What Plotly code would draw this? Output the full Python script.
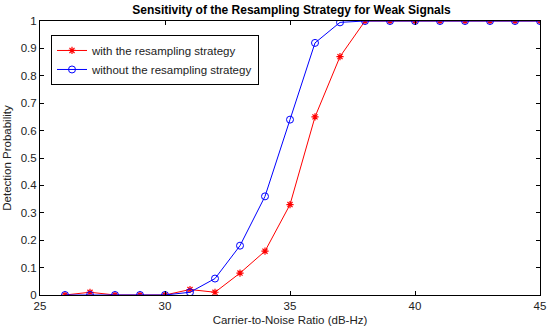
import plotly.graph_objects as go

cnr = [26, 27, 28, 29, 30, 31, 32, 33, 34, 35, 36, 37, 38, 39, 40, 41, 42, 43, 44, 45]
with_resampling = [0, 0.01, 0, 0, 0, 0.02, 0.01, 0.08, 0.16, 0.33, 0.65, 0.87, 1, 1, 1, 1, 1, 1, 1, 1]
without_resampling = [0, 0, 0, 0, 0, 0.01, 0.06, 0.18, 0.36, 0.64, 0.92, 0.995, 1, 1, 1, 1, 1, 1, 1, 1]

x_ticks = [25, 30, 35, 40, 45]
y_ticks = [0, 0.1, 0.2, 0.3, 0.4, 0.5, 0.6, 0.7, 0.8, 0.9, 1]
y_ticklabels = ["0", "0.1", "0.2", "0.3", "0.4", "0.5", "0.6", "0.7", "0.8", "0.9", "1"]

FONT = "Liberation Sans, Arial"
TXT = "#222222"

fig = go.Figure()
fig.add_trace(go.Scatter(
    x=cnr, y=with_resampling, mode="lines+markers",
    name="with the resampling strategy",
    line=dict(color="#ff0000", width=1),
    marker=dict(symbol="asterisk-open", size=6, color="#ff0000", line=dict(color="#ff0000", width=1.2)),
))
fig.add_trace(go.Scatter(
    x=cnr, y=without_resampling, mode="lines+markers",
    name="without the resampling strategy",
    line=dict(color="#0000ff", width=1),
    marker=dict(symbol="circle-open", size=7, color="#0000ff", line=dict(color="#0000ff", width=1)),
))

axis_common = dict(
    showgrid=False, zeroline=False, showline=True, linecolor="black", linewidth=1,
    mirror="ticks", ticks="inside", ticklen=4, tickcolor="black", automargin=False,
    tickfont=dict(family=FONT, size=11.5, color=TXT),
)

fig.update_layout(
    width=550, height=330,
    margin=dict(l=40, r=10, t=21, b=35),
    paper_bgcolor="white", plot_bgcolor="white",
    title=dict(text="<b>Sensitivity of the Resampling Strategy for Weak Signals</b>",
               x=0.53, xanchor="center", y=0.97, yanchor="middle",
               font=dict(family=FONT, size=12, color="black")),
    xaxis=dict(range=[25, 45], tickvals=x_ticks,
               title=dict(text="Carrier-to-Noise Ratio (dB-Hz)", standoff=5,
                          font=dict(family=FONT, size=11.5, color=TXT)),
               **axis_common),
    yaxis=dict(range=[0, 1], tickvals=y_ticks, ticktext=y_ticklabels,
               title=dict(text="Detection Probability", standoff=6,
                          font=dict(family=FONT, size=11.5, color=TXT)),
               **axis_common),
    legend=dict(x=0.022, y=0.949, xanchor="left", yanchor="top",
                bgcolor="white", bordercolor="black", borderwidth=1,
                font=dict(family=FONT, size=11.5, color=TXT),
                tracegroupgap=0, itemwidth=30),
    showlegend=True,
)

fig.write_html("out.html",
               config={"displayModeBar": False},
               post_script="document.body.style.margin='0';document.body.style.overflow='hidden';")
